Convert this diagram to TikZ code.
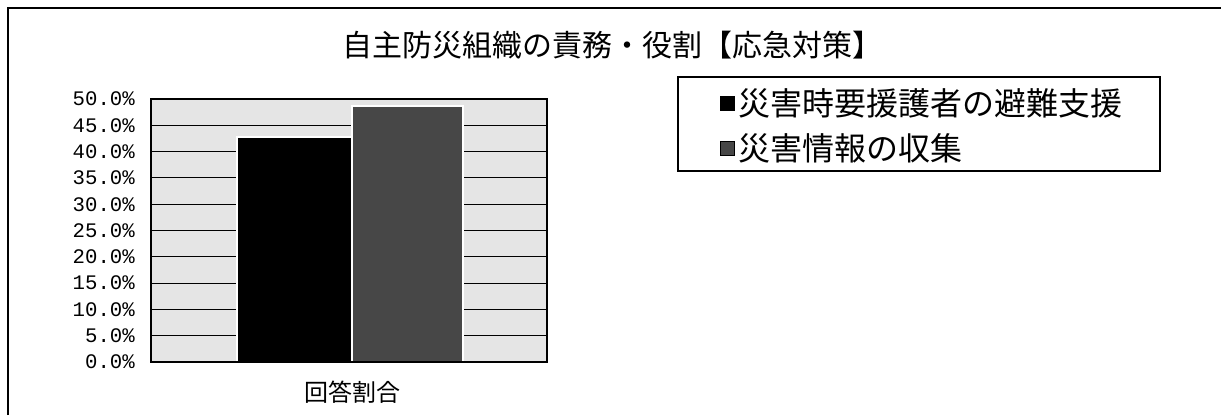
\documentclass[tikz,border=0pt]{standalone}
\usepackage{fontspec}
\setmainfont{Liberation Serif}
\setmonofont{Liberation Mono}
\newfontfamily\jpfont{Noto Sans CJK JP}
\usetikzlibrary{positioning}

\tikzset{
  ticklabel/.style={anchor=east, inner sep=0pt, font=\ttfamily\fontsize{15.5}{15.5}\selectfont},
  legendmark/.style={draw, minimum size=10.5pt, inner sep=0pt},
  legendtext/.style={anchor=west, inner sep=0pt, font=\jpfont\fontsize{24}{24}\selectfont},
}

\begin{document}
\begin{tikzpicture}[x=0.75pt,y=-0.75pt]
  \useasboundingbox (0,0) rectangle (1221,415);

  % outer frame, left and top side only
  \draw[line width=0.8pt] (8,415) -- (8,8) -- (1221,8);

  % chart title
  \node[font=\jpfont\fontsize{22.5}{22.5}\selectfont] (title) at (612,45) {自主防災組織の責務・役割【応急対策】};

  % plot area with grid lines and axis labels
  \fill[black!10] (151,99) rectangle (547,362);
  \foreach \i in {0,...,10} {
    \pgfmathtruncatemacro\pct{5*\i}
    \draw[line width=0.8pt] (151,{362-26.3*\i}) -- (547,{362-26.3*\i});
    \node[ticklabel] (tick\i) at (135,{362-26.3*\i}) {\pct.0\%};
  }

  % bars
  \filldraw[fill=black, draw=white, line width=0.8pt] (237,362) rectangle (352,137);
  \filldraw[fill=black!72, draw=white, line width=0.8pt] (352,362) rectangle (463,106);
  \draw[line width=1.2pt] (151,99) rectangle (547,362);

  % category label
  \node[font=\jpfont\fontsize{18}{18}\selectfont] (category) at (352,392) {回答割合};

  % legend
  \draw[line width=0.8pt] (678,77) rectangle (1160,171);
  \node[legendmark, fill=black] (markA) at (727,103) {};
  \node[legendtext, right=3pt of markA] (keyA) {災害時要援護者の避難支援};
  \node[legendmark, fill=black!72] (markB) at (727,148) {};
  \node[legendtext, right=3pt of markB] (keyB) {災害情報の収集};
\end{tikzpicture}
\end{document}
